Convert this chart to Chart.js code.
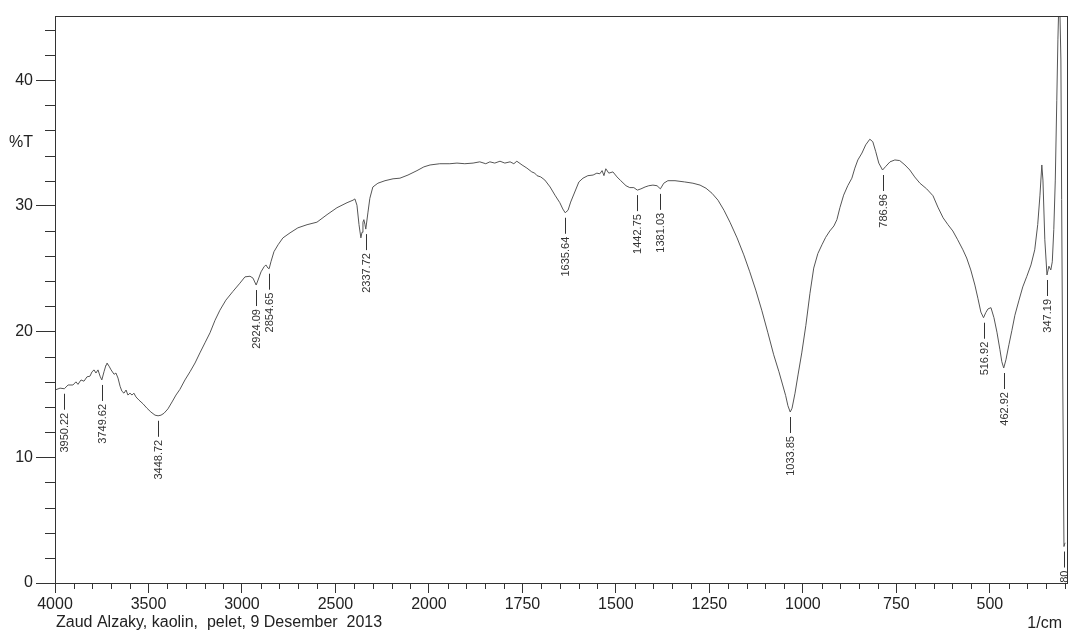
<!DOCTYPE html>
<html>
<head>
<meta charset="utf-8">
<script src="https://cdn.jsdelivr.net/npm/chart.js@4/dist/chart.umd.min.js"></script>
<style>
  body { margin: 0; background: #fff; }
  canvas { display: block; }
</style>
</head>
<body>
<canvas id="ftirChart" width="1074" height="632"></canvas>
<script>
// spectrum: wavenumber (1/cm) and transmittance (%T)
const wavenumbers = [
  4000, 3973, 3950.22, 3930, 3904, 3888, 3877, 3861, 3845, 3829, 3813, 3802, 3791, 3781, 3770, 3759,
  3749.62, 3738, 3727, 3722, 3711, 3700, 3684, 3674, 3663, 3652, 3642, 3631, 3620, 3610, 3599, 3588,
  3578, 3567, 3551, 3529, 3508, 3487, 3465, 3448.72, 3433, 3417, 3396, 3374, 3353, 3332, 3305, 3278,
  3251, 3225, 3198, 3171, 3144, 3118, 3086, 3048, 3011, 2984, 2957, 2941, 2924.09, 2914, 2898, 2882,
  2872, 2861, 2854.65, 2845, 2829, 2807, 2781, 2743, 2701, 2652, 2599, 2545, 2492, 2438, 2406, 2396,
  2385, 2374, 2364, 2358, 2353, 2348, 2342, 2337.72, 2326, 2316, 2300, 2273, 2235, 2192, 2155, 2112,
  2064, 2027, 1997, 1971, 1944, 1925, 1904, 1882, 1864, 1848, 1837, 1824, 1810, 1797, 1783, 1773,
  1765, 1751, 1738, 1725, 1717, 1711, 1701, 1690, 1676, 1663, 1650, 1642, 1635.64, 1628, 1621, 1610,
  1599, 1588, 1575, 1561, 1551, 1543, 1537, 1532, 1527, 1519, 1508, 1497, 1487, 1473, 1463, 1452,
  1442.75, 1433, 1422, 1412, 1401, 1390, 1381.03, 1372, 1361, 1342, 1316, 1294, 1275, 1259, 1243, 1227,
  1211, 1195, 1176, 1158, 1142, 1126, 1110, 1094, 1078, 1064, 1054, 1046, 1040, 1033.85, 1029, 1021,
  1013, 1003, 992, 981, 971, 960, 949, 939, 928, 917, 909, 901, 891, 880, 869, 861,
  853, 842, 832, 821, 813, 805, 797, 786.96, 778, 767, 754, 741, 727, 714, 701, 687,
  669, 652, 639, 625, 612, 599, 586, 572, 562, 551, 540, 532, 524, 516.92, 511, 505,
  497, 489, 481, 473, 468, 462.92, 457, 449, 441, 433, 422, 412, 401, 390, 380, 372,
  366, 361, 358, 353, 347.19, 342, 337, 333, 329, 325, 321, 318, 316, 313, 310, 308,
  305, 301.8, 299
];
const transmittance = [
  15.35, 15.5, 15.45, 15.75, 15.75, 16.0, 15.8, 16.15, 16.05, 16.4, 16.45, 16.8, 16.95, 16.7, 16.95, 16.45,
  16.15, 16.8, 17.35, 17.5, 17.25, 16.95, 16.6, 16.7, 16.3, 15.65, 15.25, 15.1, 15.35, 14.95, 15.1, 14.95,
  15.1, 14.8, 14.55, 14.25, 13.9, 13.6, 13.35, 13.3, 13.35, 13.5, 13.85, 14.4, 14.95, 15.4, 16.15, 16.8,
  17.5, 18.3, 19.1, 19.9, 20.9, 21.7, 22.5, 23.2, 23.85, 24.35, 24.4, 24.25, 23.7, 24.1, 24.75, 25.15,
  25.3, 25.05, 25.0, 25.55, 26.35, 26.9, 27.45, 27.85, 28.25, 28.5, 28.7, 29.3, 29.85, 30.25, 30.45, 30.55,
  30.05, 28.5, 27.45, 27.9, 28.7, 28.9, 28.5, 28.15, 29.5, 30.6, 31.5, 31.8, 32.0, 32.15, 32.2, 32.45,
  32.8, 33.1, 33.25, 33.35, 33.35, 33.4, 33.35, 33.4, 33.5, 33.35, 33.5, 33.4, 33.55, 33.4, 33.5, 33.35,
  33.55, 33.25, 33.0, 32.7, 32.6, 32.4, 32.3, 32.05, 31.5, 30.85, 30.25, 29.75, 29.45, 29.65, 30.3, 31.1,
  31.9, 32.2, 32.4, 32.45, 32.6, 32.55, 32.8, 32.4, 32.95, 32.6, 32.7, 32.3, 32.0, 31.6, 31.45, 31.45,
  31.25, 31.35, 31.5, 31.6, 31.65, 31.6, 31.35, 31.8, 32.0, 32.0, 31.9, 31.8, 31.65, 31.4, 31.0, 30.45,
  29.65, 28.7, 27.45, 26.1, 24.75, 23.3, 21.7, 19.95, 18.15, 16.8, 15.75, 14.9, 14.1, 13.6, 13.9, 15.1,
  16.55, 18.3, 20.5, 23.05, 25.05, 26.2, 26.9, 27.5, 28.0, 28.4, 28.9, 29.85, 30.85, 31.6, 32.2, 33.0,
  33.65, 34.2, 34.85, 35.3, 35.1, 34.3, 33.4, 32.85, 33.15, 33.5, 33.65, 33.6, 33.25, 32.85, 32.3, 31.8,
  31.35, 30.8, 29.9, 29.05, 28.5, 28.0, 27.3, 26.5, 25.85, 24.9, 23.7, 22.65, 21.55, 21.1, 21.5, 21.8,
  21.9, 21.1, 19.95, 18.55, 17.6, 17.1, 17.75, 18.95, 20.1, 21.3, 22.5, 23.55, 24.4, 25.3, 26.5, 28.5,
  30.85, 33.25, 32.05, 27.3, 24.5, 25.2, 24.9, 25.55, 28.1, 32.05, 38.4, 43.2, 45.6, 46.0, 41.6, 30.5,
  16.15, 2.9, 3.2
];

// labelled peaks
const peakWavenumbers = [3950.22, 3749.62, 3448.72, 2924.09, 2854.65, 2337.72, 1635.64, 1442.75,
  1381.03, 1033.85, 786.96, 516.92, 462.92, 347.19, 301.8];

// axis ticks
const xMajorTicks = [4000, 3500, 3000, 2500, 2000, 1750, 1500, 1250, 1000, 750, 500];
const yMajorTicks = [0, 10, 20, 30, 40];

const footerText = 'Zaud Alzaky, kaolin,  pelet, 9 Desember  2013';

// x axis is compressed above 2000 1/cm (500 per division) and expanded below (250 per division)
const X_START = 4000, X_BREAK = 2000, X_END = 291;
const toDivisions = w => w >= X_BREAK ? (X_START - w) / 500 : 4 + (X_BREAK - w) / 250;
const fromDivisions = d => d <= 4 ? X_START - d * 500 : X_BREAK - (d - 4) * 250;

class WavenumberScale extends Chart.LinearScale {
  getPixelForValue(value) {
    return this.getPixelForDecimal(toDivisions(value) / toDivisions(X_END));
  }
  getValueForPixel(pixel) {
    return fromDivisions(this.getDecimalForPixel(pixel) * toDivisions(X_END));
  }
}
WavenumberScale.id = 'wavenumber';
WavenumberScale.defaults = Chart.LinearScale.defaults;
Chart.register(WavenumberScale);

Chart.defaults.font.family = "'Liberation Sans', Arial, sans-serif";
Chart.defaults.color = '#222';

const ink = '#333';

const decorations = {
  id: 'decorations',
  afterDraw(chart) {
    const { ctx, chartArea: a, scales: { x, y } } = chart;
    ctx.save();
    ctx.strokeStyle = ink;
    ctx.lineWidth = 1;

    // frame
    ctx.strokeRect(a.left + 0.5, a.top + 0.5, a.right - a.left - 1, a.bottom - a.top);

    // minor ticks
    ctx.beginPath();
    for (let w = 3900; w > X_BREAK; w -= 100) {
      if (w % 500 === 0) continue;
      const px = Math.round(x.getPixelForValue(w)) + 0.5;
      ctx.moveTo(px, a.bottom); ctx.lineTo(px, a.bottom + 6);
    }
    for (let w = 1950; w >= 300; w -= 50) {
      if (w % 250 === 0) continue;
      const px = Math.round(x.getPixelForValue(w)) + 0.5;
      ctx.moveTo(px, a.bottom); ctx.lineTo(px, a.bottom + 6);
    }
    for (let t = 2; t <= 44; t += 2) {
      if (t % 10 === 0) continue;
      const py = Math.round(y.getPixelForValue(t)) + 0.5;
      ctx.moveTo(a.left - 10, py); ctx.lineTo(a.left, py);
    }
    ctx.stroke();

    // peak markers
    ctx.save();
    ctx.beginPath();
    ctx.rect(a.left, a.top, a.right - a.left, a.bottom - a.top);
    ctx.clip();
    ctx.fillStyle = ink;
    ctx.font = "11px 'Liberation Sans', Arial, sans-serif";
    ctx.textAlign = 'right';
    ctx.textBaseline = 'middle';
    peakWavenumbers.forEach(w => {
      const t = transmittance[wavenumbers.indexOf(w)];
      const px = Math.round(x.getPixelForValue(w)) + 0.5;
      const py = y.getPixelForValue(t);
      ctx.beginPath();
      ctx.moveTo(px, py + 5); ctx.lineTo(px, py + 21);
      ctx.stroke();
      ctx.save();
      ctx.translate(px, py + 24);
      ctx.rotate(-Math.PI / 2);
      ctx.fillText(w.toFixed(2), 0, 0);
      ctx.restore();
    });
    ctx.restore();

    // axis captions and footer
    ctx.fillStyle = '#222';
    ctx.font = "16px 'Liberation Sans', Arial, sans-serif";
    ctx.textAlign = 'right';
    ctx.textBaseline = 'middle';
    ctx.fillText('%T', a.left - 22, y.getPixelForValue(35));
    ctx.textBaseline = 'alphabetic';
    ctx.fillText('1/cm', a.right - 6, 628);
    ctx.textAlign = 'left';
    ctx.fillText(footerText, a.left + 1, 627);
    ctx.restore();
  }
};

new Chart(document.getElementById('ftirChart'), {
  type: 'line',
  data: {
    datasets: [{
      data: wavenumbers.map((w, i) => ({ x: w, y: transmittance[i] })),
      borderColor: '#555',
      borderWidth: 1,
      pointRadius: 0,
      tension: 0,
      fill: false
    }]
  },
  options: {
    responsive: false,
    animation: false,
    events: [],
    layout: { padding: { top: 16, right: 6, left: 0, bottom: 0 } },
    plugins: { legend: { display: false }, tooltip: { enabled: false } },
    scales: {
      x: {
        type: 'wavenumber',
        min: X_END,
        max: X_START,
        afterBuildTicks: scale => { scale.ticks = xMajorTicks.map(v => ({ value: v })); },
        afterFit: scale => { scale.height = 49; },
        ticks: {
          autoSkip: false,
          maxRotation: 0,
          padding: 2,
          font: { size: 16 },
          callback: v => String(v)
        },
        grid: { drawOnChartArea: false, drawTicks: true, tickLength: 10, tickColor: ink },
        border: { display: false }
      },
      y: {
        min: 0,
        max: 45.1,
        afterBuildTicks: scale => { scale.ticks = yMajorTicks.map(v => ({ value: v })); },
        afterFit: scale => { scale.width = 55; },
        ticks: { padding: 3, font: { size: 16 }, callback: v => String(v) },
        grid: { drawOnChartArea: false, drawTicks: true, tickLength: 19, tickColor: ink },
        border: { display: false }
      }
    }
  },
  plugins: [decorations]
});
</script>
</body>
</html>
